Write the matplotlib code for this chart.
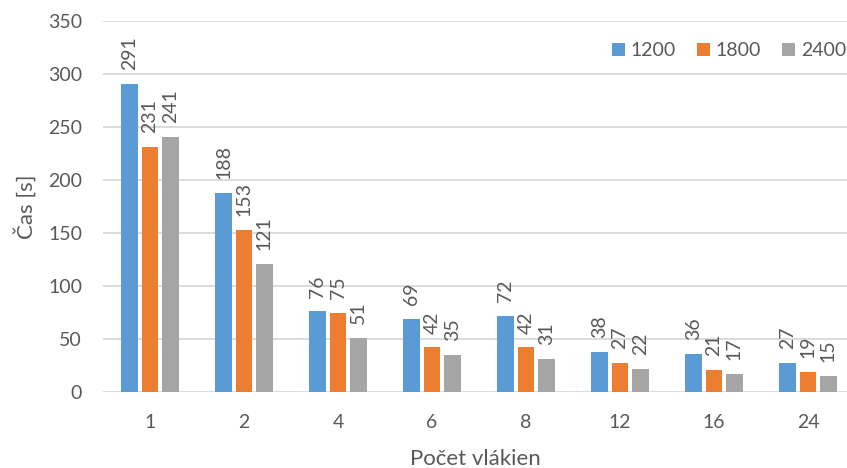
import matplotlib.pyplot as plt
import numpy as np

# ====================== 数据 ======================
threads = ["1", "2", "4", "6", "8", "12", "16", "24"]
series_names = ["1200", "1800", "2400"]
t_1200 = [291, 188, 76, 69, 72, 38, 36, 27]
t_1800 = [231, 153, 75, 42, 42, 27, 21, 19]
t_2400 = [241, 121, 51, 35, 31, 22, 17, 15]

COLORS = ["#5B9BD5", "#ED7D31", "#A5A5A5"]
TEXT_COLOR = "#595959"
GRID_COLOR = "#D9D9D9"

plt.rcParams["font.family"] = ["Lato", "DejaVu Sans"]

fig = plt.figure(figsize=(8.47, 4.68), dpi=100)
ax = fig.add_axes([103 / 847, 76 / 468, 744 / 847, 371 / 468])

x = np.arange(len(threads))
bar_w = 0.178
step = 0.216

for i, (vals, name, color) in enumerate(zip([t_1200, t_1800, t_2400], series_names, COLORS)):
    pos = x + (i - 1) * step
    bars = ax.bar(pos, vals, width=bar_w, color=color, label=name, zorder=3)
    for b, v in zip(bars, vals):
        ax.annotate(str(v), (b.get_x() + b.get_width() / 2, v),
                    xytext=(0, 10), textcoords="offset points",
                    rotation=90, ha="center", va="bottom",
                    fontsize=14, color=TEXT_COLOR)

ax.set_ylim(0, 350)
ax.set_yticks(np.arange(0, 351, 50))
ax.set_xlim(-0.5, -0.5 + 744 / 94)
ax.set_xticks(x)
ax.set_xticklabels(threads)

ax.grid(axis="y", color=GRID_COLOR, linewidth=1.3, zorder=0)
for s in ax.spines.values():
    s.set_visible(False)
ax.tick_params(axis="both", length=0, labelsize=14, colors=TEXT_COLOR)
ax.tick_params(axis="y", pad=15)
ax.tick_params(axis="x", pad=16)

ax.set_xlabel("Počet vlákien", fontsize=16, color=TEXT_COLOR, labelpad=13)
ax.set_ylabel("Čas [s]", fontsize=16, color=TEXT_COLOR, labelpad=8)

leg = fig.legend(loc="center right", bbox_to_anchor=(846 / 847, 1 - 51 / 468),
                 ncol=3, frameon=False, fontsize=14, handlelength=0.65,
                 handleheight=0.65, handletextpad=0.3, columnspacing=1.1,
                 borderpad=0, borderaxespad=0)
for t in leg.get_texts():
    t.set_color(TEXT_COLOR)

fig.savefig("out.png", dpi=100)
